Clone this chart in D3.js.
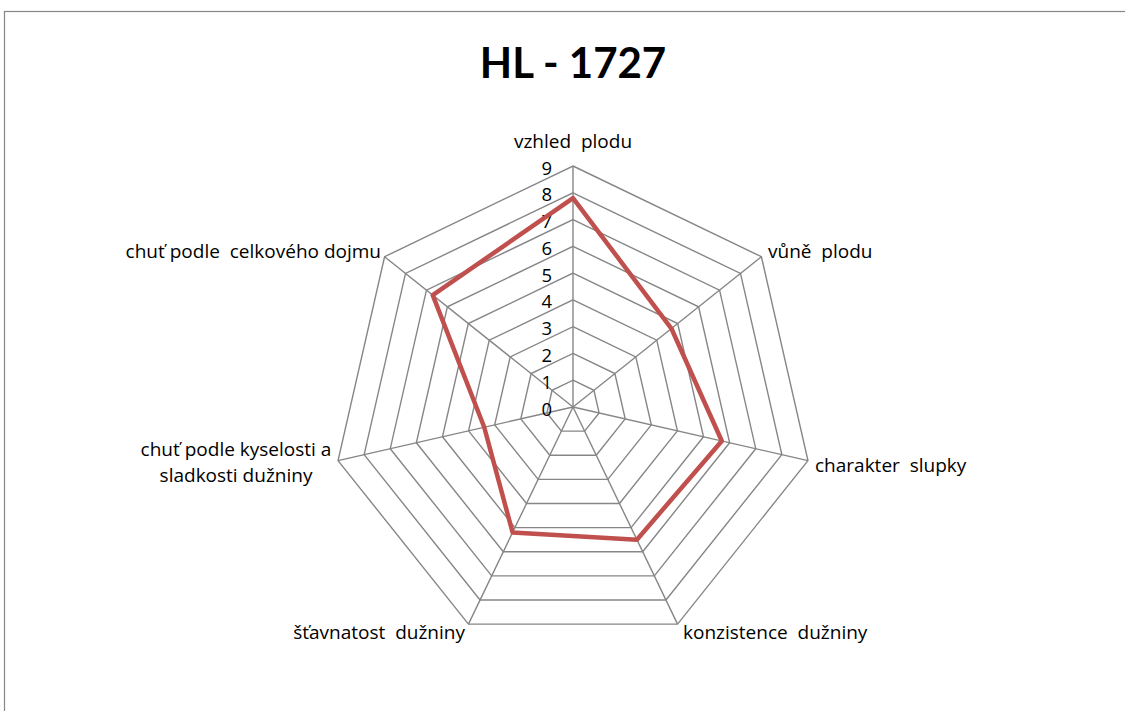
<!DOCTYPE html>
<html><head><meta charset="utf-8">
<script src="https://cdn.jsdelivr.net/npm/d3@7"></script>
<style>body{margin:0;background:#fff}svg{display:block}text{font-family:"Open Sans",Lato,sans-serif;fill:#000}</style>
</head><body>
<svg id="c" width="1125" height="711"></svg>
<script>
const title = "HL - 1727";
const categories = ["vzhled  plodu","vůně  plodu","charakter  slupky","konzistence  dužniny","šťavnatost  dužniny","chuť podle kyselosti a|sladkosti dužniny","chuť podle  celkového dojmu"];
const values = [7.8, 4.7, 5.7, 5.5, 5.2, 3.4, 6.7];
const ticks = [0,1,2,3,4,5,6,7,8,9];

const svg = d3.select("#c");
svg.append("rect").attr("x",4.5).attr("y",11.5).attr("width",1200).attr("height",800)
  .attr("fill","#fff").attr("stroke","#868686").attr("stroke-width",1.2);
svg.append("text").attr("x",573).attr("y",78).attr("text-anchor","middle")
  .style("font-family","Lato,sans-serif").style("font-weight","bold").style("font-size","42px").text(title);

const cx=573, cy=407, R=241;
const n=categories.length;
const r = d3.scaleLinear().domain([0,9]).range([0,R]);
const ang = d3.scaleLinear().domain([0,n]).range([0,2*Math.PI]);
const pt = (i,v)=>[cx+r(v)*Math.sin(ang(i)), cy-r(v)*Math.cos(ang(i))];
const g = svg.append("g");
ticks.slice(1).forEach(t=>{
  g.append("path").attr("d", d3.line()(d3.range(n).map(i=>pt(i,t)))+"Z")
   .attr("fill","none").attr("stroke","#868686").attr("stroke-width",1.4);
});
d3.range(n).forEach(i=>{
  const p=pt(i,9);
  g.append("line").attr("x1",cx).attr("y1",cy).attr("x2",p[0]).attr("y2",p[1])
   .attr("stroke","#868686").attr("stroke-width",1.4);
});
ticks.forEach(t=>{
  g.append("text").attr("x",cx-21).attr("y",cy-r(t)+8.5).attr("text-anchor","end")
   .style("font-size","18.5px").text(t);
});
svg.append("path").attr("d", d3.line()(values.map((v,i)=>pt(i,v)))+"Z")
  .attr("fill","none").attr("stroke","#C0504D").attr("stroke-width",4.5).attr("stroke-linejoin","round");

const lab = [
  {x:573,y:148,a:"middle"},
  {x:768,y:258,a:"start"},
  {x:815,y:472,a:"start"},
  {x:683,y:639,a:"start"},
  {x:465,y:639,a:"end"},
  {x:236,y:456,a:"middle"},
  {x:381,y:258,a:"end"}
];
categories.forEach((c,i)=>{
  const t=svg.append("text").attr("x",lab[i].x).attr("y",lab[i].y).attr("text-anchor",lab[i].a)
   .style("font-size","19px").style("white-space","pre");
  c.split("|").forEach((s,j)=>t.append("tspan").attr("x",lab[i].x).attr("dy",j?26:0).text(s));
});
</script>
</body></html>
